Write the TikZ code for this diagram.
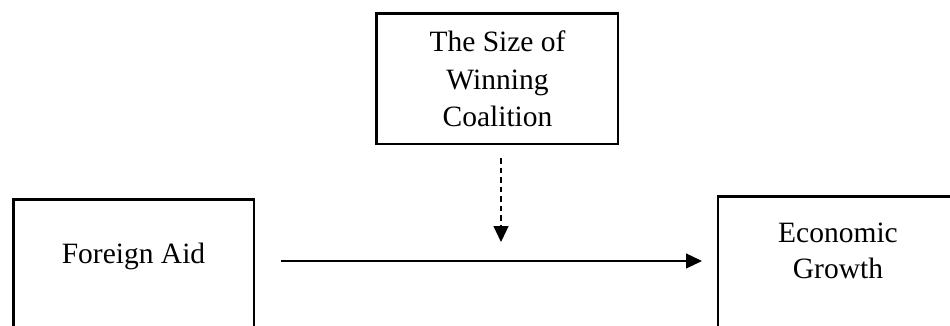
\documentclass[tikz,border=0pt]{standalone}
\usepackage{fontspec}
\setmainfont{Liberation Serif}
\usetikzlibrary{arrows.meta}
\begin{document}
\begin{tikzpicture}[x=1pt,y=-1pt,
  box/.style={draw=black, line width=2.6pt, rectangle, anchor=north west, inner sep=0pt, outer sep=0pt},
  lbl/.style={anchor=base, inner sep=0pt, font=\fontsize{29.5}{37.5}\selectfont},
  arr/.style={line width=1.2pt, -{Triangle[length=16pt,width=15pt]}},
  darr/.style={arr, dash pattern=on 5.5pt off 4pt}]
\useasboundingbox (0,0) rectangle (950,326);
\clip (0,0) rectangle (950,326);
\node[box, minimum width=241.7pt, minimum height=130.2pt] (wc) at (376.3,13.8) {};
\node[box, minimum width=240.7pt, minimum height=145pt] (fa) at (13.3,199.3) {};
\node[box, minimum width=260pt, minimum height=130.8pt] (eg) at (718,196.2) {};
\node[lbl] (t1) at (497.5,52) {The Size of};
\node[lbl] (t2) at (497.5,90) {Winning};
\node[lbl] (t3) at (497.5,127) {Coalition};
\node[lbl] (f1) at (133.5,263) {Foreign Aid};
\node[lbl] (e1) at (838,242) {Economic};
\node[lbl] (e2) at (838,278) {Growth};
\coordinate (s1) at (281,261);
\coordinate (s2) at (702,261);
\coordinate (d1) at (501,158);
\coordinate (d2) at (501,242);
\draw[arr] (s1) -- (s2);
\draw[darr] (d1) -- (d2);
\end{tikzpicture}
\end{document}
